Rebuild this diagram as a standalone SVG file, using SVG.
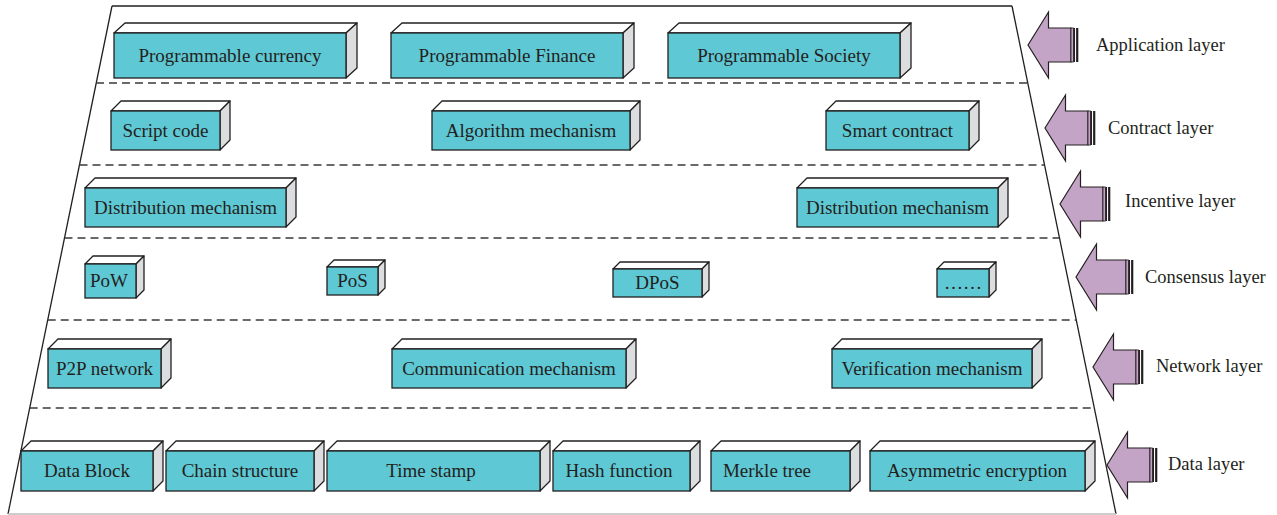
<svg xmlns="http://www.w3.org/2000/svg" width="1277" height="515" viewBox="0 0 1277 515">
<style>
.front{fill:#5fc8d5;stroke:#231f20;stroke-width:1.3}
.top{fill:#ffffff;stroke:#231f20;stroke-width:1.3;stroke-linejoin:round}
.side{fill:#dcdddf;stroke:#231f20;stroke-width:1.3;stroke-linejoin:round}
.t{font-family:"Liberation Serif","Times New Roman",serif;font-size:19px;fill:#231f20;text-anchor:middle}
.lt{font-family:"Liberation Serif","Times New Roman",serif;font-size:18.5px;fill:#231f20}
.dash{stroke:#3a3a3a;stroke-width:1.4;stroke-dasharray:8 5;fill:none}
.arr{fill:#c4a4c6;stroke:#231f20;stroke-width:1.2;stroke-linejoin:miter}
.bar{fill:#231f20}
</style>
<defs>
<g id="arrowShape">
<polygon class="arr" points="0,0 20.5,-33 20.5,-17 43,-17 43,17 20.5,17 20.5,33"/>
<rect x="43" y="-17" width="2.5" height="34" fill="#c4a4c6" stroke="#231f20" stroke-width="0.8"/>
<rect class="bar" x="45.5" y="-17" width="1.6" height="34"/>
<rect x="47.1" y="-17" width="1" height="34" fill="#ffffff"/>
<rect class="bar" x="48.1" y="-17" width="2.2" height="34"/>
</g>
<g id="arrowLong">
<polygon class="arr" points="0,0 20.5,-33 20.5,-17 50,-17 50,17 20.5,17 20.5,33"/>
<rect x="50" y="-17" width="2.5" height="34" fill="#c4a4c6" stroke="#231f20" stroke-width="0.8"/>
<rect class="bar" x="52.5" y="-17" width="1.6" height="34"/>
<rect x="54.1" y="-17" width="1" height="34" fill="#ffffff"/>
<rect class="bar" x="55.1" y="-17" width="2.2" height="34"/>
</g>
</defs>
<rect width="1277" height="515" fill="#ffffff"/>

<g id="frame">
<line x1="112" y1="6" x2="1012" y2="6" stroke="#231f20" stroke-width="1.3"/>
<line x1="112" y1="6" x2="8" y2="514" stroke="#231f20" stroke-width="1.3"/>
<line x1="1012" y1="6" x2="1116" y2="514" stroke="#231f20" stroke-width="1.3"/>
<line x1="8" y1="514" x2="1116" y2="514" stroke="#bdbdbd" stroke-width="1.3"/>
</g>

<g id="separators">
<line class="dash" x1="96" y1="83" x2="1028" y2="83"/>
<line class="dash" x1="79.5" y1="165" x2="1044.5" y2="165"/>
<line class="dash" x1="64.5" y1="238" x2="1059.5" y2="238"/>
<line class="dash" x1="47.7" y1="320" x2="1076.3" y2="320"/>
<line class="dash" x1="29.7" y1="408" x2="1094.3" y2="408"/>
</g>

<!-- Application layer -->
<g id="n-prog-currency">
<polygon class="top" points="114,33 125,23 357,23 346,33"/>
<polygon class="side" points="346,33 357,23 357,68 346,78"/>
<rect class="front" x="114" y="33" width="232" height="45"/>
<text class="t" x="230" y="61.5">Programmable currency</text>
</g>
<g id="n-prog-finance">
<polygon class="top" points="391,33 402,23 634,23 623,33"/>
<polygon class="side" points="623,33 634,23 634,68 623,78"/>
<rect class="front" x="391" y="33" width="232" height="45"/>
<text class="t" x="507" y="61.5">Programmable Finance</text>
</g>
<g id="n-prog-society">
<polygon class="top" points="668,33 679,23 911,23 900,33"/>
<polygon class="side" points="900,33 911,23 911,68 900,78"/>
<rect class="front" x="668" y="33" width="232" height="45"/>
<text class="t" x="784" y="61.5">Programmable Society</text>
</g>

<!-- Contract layer -->
<g id="n-script-code">
<polygon class="top" points="111,111 121,101 230,101 220,111"/>
<polygon class="side" points="220,111 230,101 230,140 220,150"/>
<rect class="front" x="111" y="111" width="109" height="39"/>
<text class="t" x="165.5" y="136.5">Script code</text>
</g>
<g id="n-algorithm">
<polygon class="top" points="432,111 442,101 640,101 630,111"/>
<polygon class="side" points="630,111 640,101 640,140 630,150"/>
<rect class="front" x="432" y="111" width="198" height="39"/>
<text class="t" x="531" y="136.5">Algorithm mechanism</text>
</g>
<g id="n-smart-contract">
<polygon class="top" points="826,111 836,101 979,101 969,111"/>
<polygon class="side" points="969,111 979,101 979,140 969,150"/>
<rect class="front" x="826" y="111" width="143" height="39"/>
<text class="t" x="897.5" y="136.5">Smart contract</text>
</g>

<!-- Incentive layer -->
<g id="n-distribution-1">
<polygon class="top" points="85,188 95,178 296,178 286,188"/>
<polygon class="side" points="286,188 296,178 296,217 286,227"/>
<rect class="front" x="85" y="188" width="201" height="39"/>
<text class="t" x="185.5" y="213.5">Distribution mechanism</text>
</g>
<g id="n-distribution-2">
<polygon class="top" points="797,188 807,178 1008,178 998,188"/>
<polygon class="side" points="998,188 1008,178 1008,217 998,227"/>
<rect class="front" x="797" y="188" width="201" height="39"/>
<text class="t" x="897.5" y="213.5">Distribution mechanism</text>
</g>

<!-- Consensus layer -->
<g id="n-pow">
<polygon class="top" points="85,264 93,256 144,256 136,264"/>
<polygon class="side" points="136,264 144,256 144,290 136,298"/>
<rect class="front" x="85" y="264" width="51" height="34"/>
<text class="t" x="109" y="287">PoW</text>
</g>
<g id="n-pos">
<polygon class="top" points="327,267 334,260 385,260 378,267"/>
<polygon class="side" points="378,267 385,260 385,288 378,295"/>
<rect class="front" x="327" y="267" width="51" height="28"/>
<text class="t" x="352.5" y="287">PoS</text>
</g>
<g id="n-dpos">
<polygon class="top" points="613,269 620,262 709,262 702,269"/>
<polygon class="side" points="702,269 709,262 709,290 702,297"/>
<rect class="front" x="613" y="269" width="89" height="28"/>
<text class="t" x="657.5" y="289">DPoS</text>
</g>
<g id="n-etc">
<polygon class="top" points="937,269 944,262 996,262 989,269"/>
<polygon class="side" points="989,269 996,262 996,290 989,297"/>
<rect class="front" x="937" y="269" width="52" height="28"/>
<text class="t" x="963" y="289">……</text>
</g>

<!-- Network layer -->
<g id="n-p2p">
<polygon class="top" points="48,349 58,339 171,339 161,349"/>
<polygon class="side" points="161,349 171,339 171,378 161,388"/>
<rect class="front" x="48" y="349" width="113" height="39"/>
<text class="t" x="104.5" y="374.5">P2P network</text>
</g>
<g id="n-communication">
<polygon class="top" points="392,349 402,339 636,339 626,349"/>
<polygon class="side" points="626,349 636,339 636,378 626,388"/>
<rect class="front" x="392" y="349" width="234" height="39"/>
<text class="t" x="509" y="374.5">Communication mechanism</text>
</g>
<g id="n-verification">
<polygon class="top" points="832,349 842,339 1042,339 1032,349"/>
<polygon class="side" points="1032,349 1042,339 1042,378 1032,388"/>
<rect class="front" x="832" y="349" width="200" height="39"/>
<text class="t" x="932" y="374.5">Verification mechanism</text>
</g>

<!-- Data layer -->
<g id="n-data-block">
<polygon class="top" points="21,451 31,441 163,441 153,451"/>
<polygon class="side" points="153,451 163,441 163,481 153,491"/>
<rect class="front" x="21" y="451" width="132" height="40"/>
<text class="t" x="87" y="477">Data Block</text>
</g>
<g id="n-chain-structure">
<polygon class="top" points="166,451 176,441 324,441 314,451"/>
<polygon class="side" points="314,451 324,441 324,481 314,491"/>
<rect class="front" x="166" y="451" width="148" height="40"/>
<text class="t" x="240" y="477">Chain structure</text>
</g>
<g id="n-time-stamp">
<polygon class="top" points="327,451 337,441 550,441 540,451"/>
<polygon class="side" points="540,451 550,441 550,481 540,491"/>
<rect class="front" x="327" y="451" width="213" height="40"/>
<text class="t" x="431" y="477">Time stamp</text>
</g>
<g id="n-hash-function">
<polygon class="top" points="553,451 563,441 700,441 690,451"/>
<polygon class="side" points="690,451 700,441 700,481 690,491"/>
<rect class="front" x="553" y="451" width="137" height="40"/>
<text class="t" x="619" y="477">Hash function</text>
</g>
<g id="n-merkle-tree">
<polygon class="top" points="711,451 721,441 860,441 850,451"/>
<polygon class="side" points="850,451 860,441 860,481 850,491"/>
<rect class="front" x="711" y="451" width="139" height="40"/>
<text class="t" x="767" y="477">Merkle tree</text>
</g>
<g id="n-asymmetric">
<polygon class="top" points="870,451 880,441 1095,441 1085,451"/>
<polygon class="side" points="1085,451 1095,441 1095,481 1085,491"/>
<rect class="front" x="870" y="451" width="215" height="40"/>
<text class="t" x="977" y="477">Asymmetric encryption</text>
</g>

<g id="connectors">
<g id="arrow-application"><use href="#arrowShape" transform="translate(1028,45)"/></g>
<g id="arrow-contract"><use href="#arrowShape" transform="translate(1045,128)"/></g>
<g id="arrow-incentive"><use href="#arrowShape" transform="translate(1060,204)"/></g>
<g id="arrow-consensus"><use href="#arrowLong" transform="translate(1076,277)"/></g>
<g id="arrow-network"><use href="#arrowShape" transform="translate(1093,367)"/></g>
<g id="arrow-data"><use href="#arrowShape" transform="translate(1107,465)"/></g>
</g>

<g id="layer-labels">
<text class="lt" x="1096" y="51">Application layer</text>
<text class="lt" x="1108" y="134">Contract layer</text>
<text class="lt" x="1125" y="207">Incentive layer</text>
<text class="lt" x="1145" y="283">Consensus layer</text>
<text class="lt" x="1156" y="372">Network layer</text>
<text class="lt" x="1168" y="470">Data layer</text>
</g>
</svg>
